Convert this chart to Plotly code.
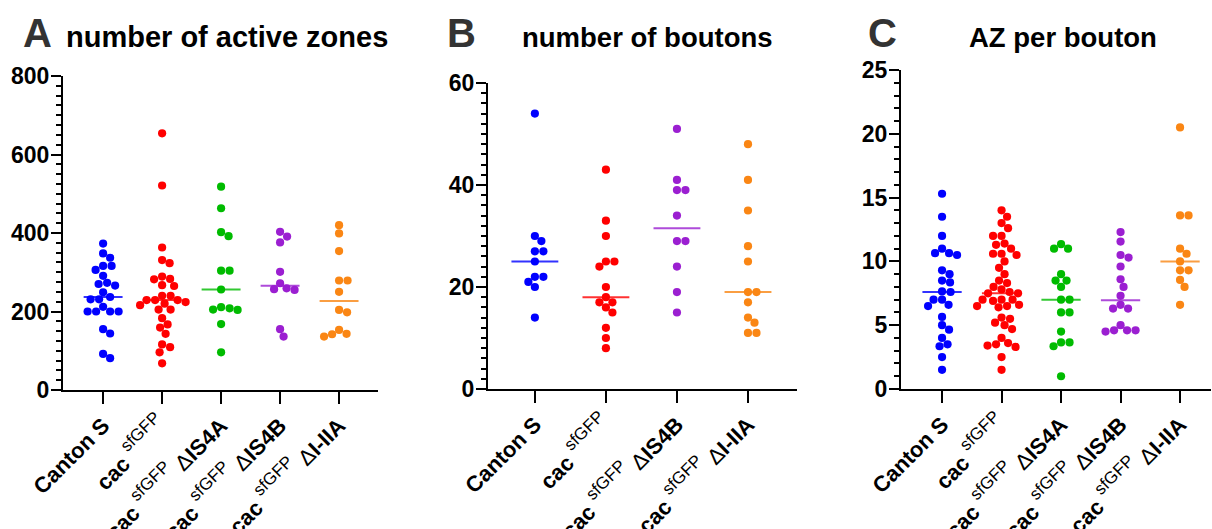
import numpy as np
import plotly.graph_objects as go

W, H = 1212, 529

# ---------------- data ----------------
groups_A = ["Canton S", "cac sfGFP", "cac sfGFP dIS4A", "cac sfGFP dIS4B", "cac sfGFP dI-IIA"]
groups_B = ["Canton S", "cac sfGFP", "cac sfGFP dIS4B", "cac sfGFP dI-IIA"]

SUP = '<sup><span style="font-size:17px;baseline-shift:3px">sfGFP</span></sup>'
labels_A = [
    "<b>Canton S</b>",
    "<b>cac</b> " + SUP,
    "<b>cac</b> " + SUP + " Δ<b>IS4A</b>",
    "<b>cac</b> " + SUP + " Δ<b>IS4B</b>",
    "<b>cac</b> " + SUP + " Δ<b>I-IIA</b>",
]
labels_B = [labels_A[0], labels_A[1], labels_A[3], labels_A[4]]

colors_A = ["#0000ff", "#ff0000", "#00bb00", "#9b1fd1", "#fa8614"]
colors_B = [colors_A[0], colors_A[1], colors_A[3], colors_A[4]]

# A: number of active zones
az_canton = [373, 348, 337, 316, 316, 306, 291, 273, 270, 266, 249, 237, 231, 231, 212,
             200, 200, 200, 200, 155, 144, 92, 81]
az_cac = [654, 521, 363, 331, 323, 289, 283, 282, 267, 265, 240, 240, 229, 229, 229, 224,
          220, 216, 205, 205, 183, 167, 159, 143, 116, 109, 96, 68]
az_is4a = [518, 463, 402, 392, 304, 304, 256, 211, 208, 205, 204, 168, 96]
az_is4b = [403, 391, 376, 301, 272, 259, 257, 255, 155, 136]
az_i_iia = [420, 399, 354, 279, 279, 250, 204, 198, 153, 143, 142, 136]

# B: number of boutons
bout_canton = [54, 30, 29, 27, 27, 25, 22, 22, 21, 20, 14]
bout_cac = [43, 33, 30, 25, 25, 24, 20, 18, 17, 17, 16, 15, 12, 10, 8]
bout_is4b = [51, 41, 39, 39, 34, 29, 29, 24, 19, 15]
bout_i_iia = [48, 41, 35, 28, 25, 19, 19, 17, 14, 13, 11, 11]

# C: AZ per bouton
azpb_canton = [15.3, 13.5, 12.0, 11.0, 10.65, 10.65, 10.5, 9.3, 9.0, 8.5, 8.35, 7.65, 7.6,
               7.0, 7.0, 6.6, 6.5, 5.65, 5.0, 4.65, 4.0, 3.5, 3.35, 2.5, 1.5]
azpb_cac = [14.0, 13.5, 13.0, 12.6, 12.0, 12.0, 11.4, 11.3, 11.0, 10.6, 10.6, 10.5, 10.0, 9.5,
            9.0, 8.5, 8.3, 8.0, 7.8, 7.6, 7.5, 7.5, 7.0, 7.0, 7.0, 6.9, 6.6, 6.5, 6.5, 6.4,
            5.6, 5.5, 5.2, 5.0, 4.7, 4.0, 3.6, 3.5, 3.4, 3.3, 2.5, 1.5]
azpb_is4a = [11.35, 11.0, 11.0, 9.0, 8.5, 8.5, 8.0, 7.0, 7.0, 6.0, 6.0, 4.5, 3.65, 3.65, 3.35, 1.0]
azpb_is4b = [12.3, 11.55, 10.5, 10.3, 9.6, 8.6, 8.0, 7.3, 6.6, 6.3, 6.3, 5.0, 4.6, 4.6, 4.6, 4.5]
azpb_i_iia = [20.5, 13.6, 13.6, 11.0, 10.6, 10.0, 9.3, 9.3, 8.55, 8.0, 6.6]

panels = [
    dict(title="number of active zones", letter="A", labels=labels_A, colors=colors_A,
         data=[az_canton, az_cac, az_is4a, az_is4b, az_i_iia],
         px=(63, 378), py=(76, 390), xr=(-0.68, 4.66), yr=(0, 800), dtick=200, minor=25),
    dict(title="number of boutons", letter="B", labels=labels_B, colors=colors_B,
         data=[bout_canton, bout_cac, bout_is4b, bout_i_iia],
         px=(488, 797), py=(83, 389), xr=(-0.66, 3.69), yr=(0, 60), dtick=20, minor=2),
    dict(title="AZ per bouton", letter="C", labels=labels_A, colors=colors_A,
         data=[azpb_canton, azpb_cac, azpb_is4a, azpb_is4b, azpb_i_iia],
         px=(901, 1211), py=(70, 389), xr=(-0.69, 4.52), yr=(0, 25), dtick=5, minor=1),
]

DOT = 8.2  # marker diameter in px


def swarm(vals, px_per_y, d):
    ys = np.asarray(vals, float) * px_per_y
    order = np.argsort(-ys, kind="stable")
    placed = []
    offs = np.zeros(len(ys))
    cands = [0.0]
    for k in range(1, 200):
        cands += [k * 0.5, -k * 0.5]
    for i in order:
        for c in cands:
            if all((c - px) ** 2 + (ys[i] - py) ** 2 >= d * d * 0.98 for px, py in placed):
                break
        placed.append((c, ys[i]))
        offs[i] = c
    return offs


fig = go.Figure()
FONT = "Liberation Sans, Arial, sans-serif"

for p_i, p in enumerate(panels):
    n = "" if p_i == 0 else str(p_i + 1)
    xa, ya = "x" + n, "y" + n
    x0, x1 = p["px"]
    yt, yb = p["py"]
    px_per_x = (x1 - x0) / (p["xr"][1] - p["xr"][0])
    px_per_y = (yb - yt) / (p["yr"][1] - p["yr"][0])
    for g, (vals, col) in enumerate(zip(p["data"], p["colors"])):
        offs = swarm(vals, px_per_y, DOT)
        fig.add_trace(go.Scatter(
            x=g + offs / px_per_x, y=vals, mode="markers", xaxis=xa, yaxis=ya,
            marker=dict(size=DOT, color=col, line=dict(width=0)), cliponaxis=False,
            hoverinfo="y"))
        med = float(np.median(vals))
        fig.add_trace(go.Scatter(
            x=[g - 0.33, g + 0.33], y=[med, med], mode="lines", xaxis=xa, yaxis=ya,
            line=dict(color=col, width=2), opacity=0.8, hoverinfo="skip"))

    fig.layout["xaxis" + n] = dict(
        domain=[x0 / W, x1 / W], anchor=ya, range=list(p["xr"]), automargin=False,
        tickmode="array", tickvals=list(range(len(p["labels"]))), ticktext=p["labels"],
        tickangle=-45, ticks="outside", ticklen=12, tickwidth=2, tickcolor="black",
        showline=True, linewidth=2, linecolor="black", showgrid=False, zeroline=False,
        tickfont=dict(family=FONT, size=22, color="black"), fixedrange=True)
    fig.layout["yaxis" + n] = dict(
        domain=[(H - yb) / H, (H - yt) / H], anchor=xa, range=list(p["yr"]), automargin=False,
        tickmode="linear", tick0=0, dtick=p["dtick"], ticks="outside", ticklen=10,
        tickwidth=2, tickcolor="black", ticklabelstandoff=-3,
        minor=dict(dtick=p["minor"], ticks="outside", ticklen=5, tickwidth=1.5,
                   tickcolor="black", showgrid=False),
        showline=True, linewidth=2, linecolor="black", showgrid=False, zeroline=False,
        tickfont=dict(family=FONT, size=23, color="black", weight="bold"), fixedrange=True)

annots = [
    dict(text="A", x=37, size=40),
    dict(text="B", x=461, size=40),
    dict(text="C", x=882, size=40),
]
for a in annots:
    fig.add_annotation(text="<b>" + a["text"] + "</b>", x=a["x"] / W, y=1 - 33 / H,
                       xref="paper", yref="paper", xanchor="center", yanchor="middle",
                       showarrow=False, font=dict(family=FONT, size=a["size"], color="#333333"))
titles = [
    dict(text=panels[0]["title"], x=227, size=29),
    dict(text=panels[1]["title"], x=647, size=27.5),
    dict(text=panels[2]["title"], x=1063, size=27.5),
]
for t in titles:
    fig.add_annotation(text="<b>" + t["text"] + "</b>", x=t["x"] / W, y=1 - 37 / H,
                       xref="paper", yref="paper", xanchor="center", yanchor="middle",
                       showarrow=False, font=dict(family=FONT, size=t["size"], color="black"))

fig.update_layout(width=W, height=H, margin=dict(l=0, r=0, t=0, b=0, autoexpand=False),
                  plot_bgcolor="white", paper_bgcolor="white", showlegend=False)

fig.write_html("out.html", config={"displayModeBar": False},
               post_script="document.body.style.margin='0';document.body.style.overflow='hidden';")
